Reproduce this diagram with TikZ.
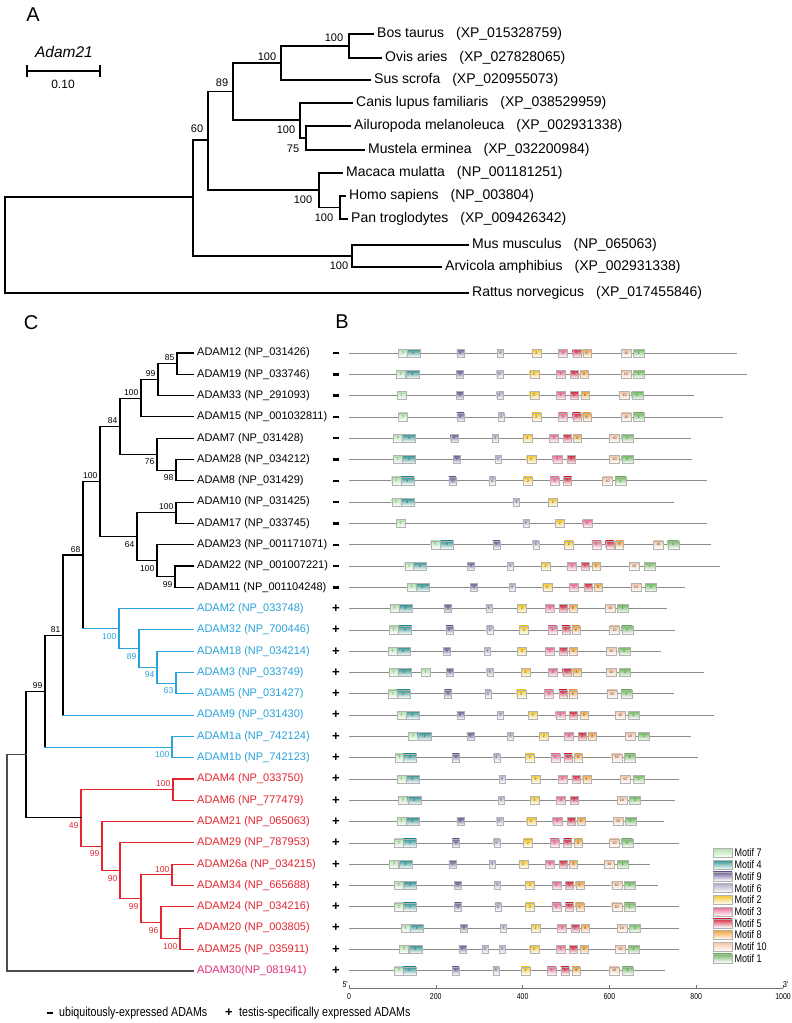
\documentclass[tikz,border=0pt]{standalone}
\usepackage{fontspec}
\setmainfont{Liberation Sans}
\newfontfamily\narrowfont[FakeStretch=0.82]{Liberation Sans}
\usetikzlibrary{positioning}

\definecolor{cblue}{HTML}{29A3DA}
\definecolor{cred}{HTML}{E42530}
\definecolor{cpink}{HTML}{E22D7B}
\definecolor{m1}{HTML}{6DB85C}
\definecolor{m2}{HTML}{F3C62E}
\definecolor{m3}{HTML}{E86A8D}
\definecolor{m4}{HTML}{2F9290}
\definecolor{m5}{HTML}{D7263F}
\definecolor{m6}{HTML}{B2AECB}
\definecolor{m7}{HTML}{B4E0AE}
\definecolor{m8}{HTML}{F0A23A}
\definecolor{m9}{HTML}{6E5E98}
\definecolor{m10}{HTML}{F5C5A5}

\newcommand{\spfont}{\fontsize{14}{16}\selectfont}
\newcommand{\adfont}{\fontsize{11}{13}\selectfont}
\newcommand{\bafont}{\fontsize{11}{13}\selectfont}
\newcommand{\bsfont}{\fontsize{8.5}{10}\selectfont}
\newcommand{\boxfont}{\fontsize{3.5}{4}\selectfont}
\newcommand{\minussign}{\rule{6.5pt}{2.4pt}}
% motif box widths (motif 1..10)
\newcommand{\motw}[1]{\ifcase\numexpr#1\relax 0\or 11\or 9\or 9\or 13\or 8\or 6\or 9\or 8\or 7\or 10\fi pt}

\tikzset{
  treeA/.style={line width=1.3pt},
  treeC/.style={line width=1.1pt},
  species/.style={anchor=west, font=\spfont, inner sep=0pt, xshift=4pt},
  leaf/.style={anchor=west, font=\adfont, inner sep=0pt, xshift=4pt},
  bsA/.style={font=\bafont, inner sep=0pt},
  bsup/.style={anchor=south east, font=\bsfont, inner sep=2.5pt},
  bsdn/.style={anchor=north east, font=\bsfont, inner sep=2.5pt, yshift=-2pt},
  sign/.style={font=\fontsize{13}{15}\selectfont\bfseries, inner sep=0pt},
  rowline/.style={draw=black!45, line width=0.8pt},
  mot/.style={draw=black!30, line width=0.3pt, inner sep=0pt, anchor=west,
    minimum height=8pt, minimum width=\motw{#1}, top color=m#1, bottom color=white,
    font=\boxfont, text=black!75},
  legtext/.style={anchor=west, font=\narrowfont\fontsize{11}{13}\selectfont, inner sep=0pt},
  ticklab/.style={font=\narrowfont\fontsize{8.5}{10}\selectfont, inner sep=0pt},
  panel/.style={font=\fontsize{20}{24}\selectfont, inner sep=0pt}
}

\begin{document}
\begin{tikzpicture}[x=1pt, y=-1pt, line cap=rect]
    \fill[white] (0,0) rectangle (792,1023);
    \useasboundingbox (0,0) rectangle (792,1023);

    % Panel letters
    \node[panel] (pA) at (33,15) {A};
    \node[panel] (pB) at (342,322) {B};
    \node[panel] (pC) at (31,323) {C};

    % Scale bar
    \coordinate (sb0) at (27,71);
    \coordinate (sb1) at (100,71);
    \node[font=\fontsize{15.5}{18}\selectfont\itshape, inner sep=0pt] (sbt) at (64,52) {Adam21};
    \draw[line width=1.2pt] (sb0) -- (sb1);
    \draw[line width=1.2pt] (27,66) -- (27,76) (100,66) -- (100,76);
    \node[font=\fontsize{12}{14}\selectfont, inner sep=0pt] (sbv) at (63,84) {0.10};

    % Panel A tree
    \coordinate (rA) at (5,245);
    \coordinate (p1) at (193,197);
    \coordinate (p2) at (208,140);
    \coordinate (p3) at (233,91.5);
    \coordinate (p4) at (281,63);
    \coordinate (p5) at (349,46);
    \coordinate (p6) at (300,120);
    \coordinate (p6b) at (306,138);
    \coordinate (p7) at (319,190);
    \coordinate (p8) at (340,207.5);
    \coordinate (p9) at (352,256);
    \coordinate (tBos) at (373,34);
    \coordinate (tOvi) at (381,58);
    \coordinate (tSus) at (370,80);
    \coordinate (tCan) at (352,103);
    \coordinate (tAil) at (350,126);
    \coordinate (tMus) at (364,150);
    \coordinate (tMac) at (342,173);
    \coordinate (tHom) at (345,196);
    \coordinate (tPan) at (347,219);
    \coordinate (tMmu) at (468,245);
    \coordinate (tArv) at (441,267);
    \coordinate (tRat) at (468,293);
    \foreach \p/\c in {rA/p1, rA/tRat, p1/p2, p1/p9, p2/p3, p2/p7, p3/p4, p3/p6,
        p4/p5, p4/tSus, p5/tBos, p5/tOvi, p6/tCan, p6/p6b, p6b/tAil, p6b/tMus,
        p7/tMac, p7/p8, p8/tHom, p8/tPan, p9/tMmu, p9/tArv}
        \draw[treeA] (\p) |- (\c);

    \node[species] (xBos) at (tBos) {Bos taurus\hspace{12pt}(XP\_015328759)};
    \node[species] (xOvi) at (tOvi) {Ovis aries\hspace{12pt}(XP\_027828065)};
    \node[species] (xSus) at (tSus) {Sus scrofa\hspace{12pt}(XP\_020955073)};
    \node[species] (xCan) at (tCan) {Canis lupus familiaris\hspace{12pt}(XP\_038529959)};
    \node[species] (xAil) at (tAil) {Ailuropoda melanoleuca\hspace{12pt}(XP\_002931338)};
    \node[species] (xMus) at (tMus) {Mustela erminea\hspace{12pt}(XP\_032200984)};
    \node[species] (xMac) at (tMac) {Macaca mulatta\hspace{12pt}(NP\_001181251)};
    \node[species] (xHom) at (tHom) {Homo sapiens\hspace{12pt}(NP\_003804)};
    \node[species] (xPan) at (tPan) {Pan troglodytes\hspace{12pt}(XP\_009426342)};
    \node[species] (xMmu) at (tMmu) {Mus musculus\hspace{12pt}(NP\_065063)};
    \node[species] (xArv) at (tArv) {Arvicola amphibius\hspace{12pt}(XP\_002931338)};
    \node[species] (xRat) at (tRat) {Rattus norvegicus\hspace{12pt}(XP\_017455846)};

    \node[bsA] (bA1) at (334,38) {100};
    \node[bsA] (bA2) at (267,57) {100};
    \node[bsA] (bA3) at (222,83) {89};
    \node[bsA] (bA4) at (197,129) {60};
    \node[bsA] (bA5) at (286,130) {100};
    \node[bsA] (bA6) at (293,149) {75};
    \node[bsA] (bA7) at (303,200) {100};
    \node[bsA] (bA8) at (324,218) {100};
    \node[bsA] (bA9) at (339,266) {100};

    % Panel C tree
    \foreach \i in {0,...,29}
        \coordinate (l\i) at (193,{353+21.3*\i});
    \coordinate (n85) at (177,363.65);
    \coordinate (n99a) at (158,379.6);
    \coordinate (n100a) at (141,398.3);
    \coordinate (n98) at (176,470.15);
    \coordinate (n76) at (157,454.2);
    \coordinate (n84) at (120,426.2);
    \coordinate (n100b) at (176,512.75);
    \coordinate (n99b) at (175,576.65);
    \coordinate (n100c) at (157,560.7);
    \coordinate (n64) at (137,536.7);
    \coordinate (n100d) at (100,481.45);
    \coordinate (n63) at (176,683.15);
    \coordinate (n94) at (157,667.2);
    \coordinate (n89) at (139,648.55);
    \coordinate (n100e) at (119,628.6);
    \coordinate (n68) at (83,555.0);
    \coordinate (n81) at (63,635.05);
    \coordinate (n100f) at (172,747.05);
    \coordinate (n99c) at (45,691.05);
    \coordinate (n100g) at (173,789.65);
    \coordinate (n100h) at (180,938.75);
    \coordinate (n96) at (161,922.8);
    \coordinate (n100i) at (172,874.85);
    \coordinate (n99d) at (141,898.8);
    \coordinate (n90) at (120,870.85);
    \coordinate (n99e) at (102,846.2);
    \coordinate (n49) at (81,817.9);
    \coordinate (nX) at (26,754.5);
    \coordinate (nR) at (7,862.6);

    % vertical bars
    \foreach \n/\t/\b/\col in {n85/l0/l1/black, n99a/n85/l2/black, n100a/n99a/l3/black,
        n84/n100a/n76/black, n76/l4/n98/black, n98/l5/l6/black, n100d/n84/n64/black,
        n64/n100b/n100c/black, n100b/l7/l8/black, n100c/l9/n99b/black, n99b/l10/l11/black,
        n68/n100d/n100e/black, n81/n68/l17/black, n99c/n81/n100f/black, nX/n99c/n49/black,
        n100e/l12/n89/cblue, n89/l13/n94/cblue, n94/l14/n63/cblue, n63/l15/l16/cblue,
        n100f/l18/l19/cblue, n49/n100g/n99e/cred, n100g/l20/l21/cred, n99e/l22/n90/cred,
        n90/l23/n99d/cred, n99d/n100i/n96/cred, n100i/l24/l25/cred, n96/l26/n100h/cred,
        n100h/l27/l28/cred}
        \draw[treeC, \col] (\n |- \t) -- (\n |- \b);
    % branches
    \foreach \p/\c/\col in {n85/l0/black, n85/l1/black, n99a/n85/black, n99a/l2/black,
        n100a/n99a/black, n100a/l3/black, n84/n100a/black, n84/n76/black, n76/l4/black,
        n76/n98/black, n98/l5/black, n98/l6/black, n100d/n84/black, n100d/n64/black,
        n64/n100b/black, n64/n100c/black, n100b/l7/black, n100b/l8/black, n100c/l9/black,
        n100c/n99b/black, n99b/l10/black, n99b/l11/black, n68/n100d/black, n81/n68/black,
        n99c/n81/black, nX/n99c/black, nX/n49/black,
        n68/n100e/cblue, n100e/l12/cblue, n100e/n89/cblue, n89/l13/cblue, n89/n94/cblue,
        n94/l14/cblue, n94/n63/cblue, n63/l15/cblue, n63/l16/cblue, n81/l17/cblue,
        n99c/n100f/cblue, n100f/l18/cblue, n100f/l19/cblue,
        n49/n100g/cred, n100g/l20/cred, n100g/l21/cred, n49/n99e/cred, n99e/l22/cred,
        n99e/n90/cred, n90/l23/cred, n90/n99d/cred, n99d/n100i/cred, n100i/l24/cred,
        n100i/l25/cred, n99d/n96/cred, n96/l26/cred, n96/n100h/cred, n100h/l27/cred,
        n100h/l28/cred}
        \draw[treeC, \col] (\p |- \c) -- (\c);
    % root
    \draw[line width=1.6pt, black!70] (nR |- nX) -- (nR |- l29);
    \draw[line width=1.6pt, black!70] (nR |- nX) -- (nX);
    \draw[line width=1.6pt, black!70] (nR |- l29) -- (l29);

    % Bootstrap values
    \foreach \n/\v in {n85/85, n99a/99, n100a/100, n84/84, n100b/100, n100d/100,
        n68/68, n81/81, n99c/99}
        \node[bsup] (b\n) at (\n) {\v};
    \foreach \n/\v in {n76/76, n98/98, n64/64, n100c/100, n99b/99}
        \node[bsdn] (b\n) at (\n) {\v};
    \foreach \n/\v in {n100e/100, n89/89, n94/94, n63/63, n100f/100}
        \node[bsdn, text=cblue] (b\n) at (\n) {\v};
    \foreach \n/\v in {n100g/100, n100i/100}
        \node[bsup, text=cred] (b\n) at (\n) {\v};
    \foreach \n/\v in {n49/49, n99e/99, n90/90, n99d/99, n96/96, n100h/100}
        \node[bsdn, text=cred] (b\n) at (\n) {\v};

    % Leaf labels
    \foreach \i/\txt/\col in {0/ADAM12 (NP\_031426)/black, 1/ADAM19 (NP\_033746)/black,
        2/ADAM33 (NP\_291093)/black, 3/ADAM15 (NP\_001032811)/black,
        4/ADAM7 (NP\_031428)/black, 5/ADAM28 (NP\_034212)/black,
        6/ADAM8 (NP\_031429)/black, 7/ADAM10 (NP\_031425)/black,
        8/ADAM17 (NP\_033745)/black, 9/ADAM23 (NP\_001171071)/black,
        10/ADAM22 (NP\_001007221)/black, 11/ADAM11 (NP\_001104248)/black,
        12/ADAM2 (NP\_033748)/cblue, 13/ADAM32 (NP\_700446)/cblue,
        14/ADAM18 (NP\_034214)/cblue, 15/ADAM3 (NP\_033749)/cblue,
        16/ADAM5 (NP\_031427)/cblue, 17/ADAM9 (NP\_031430)/cblue,
        18/ADAM1a (NP\_742124)/cblue, 19/ADAM1b (NP\_742123)/cblue,
        20/ADAM4 (NP\_033750)/cred, 21/ADAM6 (NP\_777479)/cred,
        22/ADAM21 (NP\_065063)/cred, 23/ADAM29 (NP\_787953)/cred,
        24/ADAM26a (NP\_034215)/cred, 25/ADAM34 (NP\_665688)/cred,
        26/ADAM24 (NP\_034216)/cred, 27/ADAM20 (NP\_003805)/cred,
        28/ADAM25 (NP\_035911)/cred, 29/ADAM30(NP\_081941)/cpink}
        \node[leaf, text=\col] (c\i) at (l\i) {\txt};

    % Expression signs
    \foreach \i in {0,...,11}
        \node[sign] (s\i) at (336,{353+21.3*\i}) {\minussign};
    \foreach \i in {12,...,29}
        \node[sign] (s\i) at (336,{353+21.3*\i}) {+};

    % Panel B motif rows
    \foreach \i/\len/\mots in {
        0/893/{7/114,4/133,9/248,6/342,2/421,3/482,5/515,8/538,10/627,1/655},
        1/916/{7/108,4/131,9/247,6/340,2/416,3/477,5/509,8/532,10/626,1/655},
        2/793/{7/110,9/247,6/340,2/416,3/477,5/509,8/534,10/623,1/651},
        3/861/{7/114,9/248,6/344,2/421,3/482,5/515,8/538,10/627,1/655},
        4/786/{7/102,4/123,9/234,6/330,2/400,3/461,5/494,8/517,10/600,1/628},
        5/790/{7/102,4/123,9/240,6/336,2/409,3/469,5/503,10/600,1/628},
        6/823/{7/98,4/119,9/230,6/323,2/402,3/463,5/494,10/584,1/613},
        7/747/{7/98,4/119,6/379,2/459},
        8/824/{7/108,6/400,2/475,3/538},
        9/833/{7/188,4/210,9/331,6/423,2/496,3/559,5/591,8/614,10/701,1/734},
        10/853/{7/128,4/148,9/273,6/365,2/442,3/503,5/535,8/559,10/645,1/680},
        11/774/{7/133,4/154,9/279,6/369,2/446,3/508,5/541,8/565,10/649,1/683},
        12/732/{7/94,4/115,9/220,6/315,2/388,3/452,5/483,8/506,10/590,1/618},
        13/751/{7/92,4/114,9/223,6/317,2/392,3/458,5/490,8/513,10/600,1/628},
        14/717/{7/89,4/110,9/217,6/312,2/388,3/452,5/485,8/508,10/592,1/621},
        15/818/{7/92,4/112,7/165,9/224,6/317,2/396,3/459,5/492,8/515,10/592,1/623},
        16/747/{7/89,4/110,9/220,6/313,2/386,3/450,5/483,8/506,10/594,1/626},
        17/841/{7/110,4/131,9/248,6/342,2/413,3/476,5/508,8/532,10/613,1/642},
        18/787/{7/137,4/158,9/271,6/365,2/438,3/496,5/528,8/551,10/636,1/667},
        19/803/{7/106,4/125,9/238,6/333,2/406,3/465,5/495,8/519,10/605,1/634},
        20/759/{7/110,4/131,6/346,2/419,3/481,5/513,8/538,10/624,1/654},
        21/751/{7/114,4/135,6/343,2/417,3/478,5/509,10/617,1/646},
        22/726/{7/110,4/131,9/248,6/340,2/409,3/469,5/502,8/526,10/608,1/636},
        23/759/{7/104,4/125,9/238,6/333,2/402,3/463,5/494,8/519,10/600,1/628},
        24/692/{7/93,4/115,9/230,6/323,2/391,3/452,5/483,8/508,10/588,1/618},
        25/710/{7/104,4/125,9/242,6/335,2/406,3/467,5/498,8/522,10/605,1/634},
        26/759/{7/104,4/125,9/243,6/336,2/406,3/467,5/498,8/522,10/605,1/634},
        27/759/{7/119,4/141,9/256,6/349,2/419,3/480,5/511,8/535,10/617,1/646},
        28/759/{7/116,4/138,9/253,6/306,6/346,2/416,3/477,5/508,8/532,10/614,1/643},
        29/728/{7/104,4/124,9/237,6/331,2/396,3/456,5/488,8/514,10/599,1/629}} {
        \draw[rowline] (349,{353+21.3*\i}) -- ++({0.434*\len},0);
        \foreach \m/\p [count=\k] in \mots
            \node[mot=\m] (m\i-\k) at ({349+0.434*\p},{353+21.3*\i}) {\m};
    }

    % Length axis
    \coordinate (ax0) at (349,988);
    \coordinate (ax1) at (783,988);
    \draw[black!55, line width=0.6pt] (ax0) -- (ax1);
    \foreach \v in {0,200,...,1000} {
        \draw[black!55, line width=0.6pt] ({349+0.434*\v},988) -- ++(0,-3);
        \node[ticklab] (tk\v) at ({349+0.434*\v},997) {\v};
    }
    \node[ticklab, anchor=east] (end5) at (348,985) {5'};
    \node[ticklab, anchor=west] (end3) at (783,985) {3'};

    % Motif legend
    \foreach \m [count=\k from 0] in {7,4,9,6,2,3,5,8,10,1} {
        \node[mot=\m, minimum width=19pt, minimum height=9pt] (sw\m) at (713,{853+11.7*\k}) {};
        \node[legtext, right=2pt of sw\m] (lt\m) {Motif \m};
    }

    % Expression legend
    \node[sign] (lgm) at (50,1013) {\minussign};
    \node[anchor=west, inner sep=0pt, font=\narrowfont\fontsize{13}{15}\selectfont] (lgmt) at (59,1013) {ubiquitously-expressed ADAMs};
    \node[sign] (lgp) at (229,1013) {+};
    \node[anchor=west, inner sep=0pt, font=\narrowfont\fontsize{13}{15}\selectfont] (lgpt) at (239,1013) {testis-specifically expressed ADAMs};
\end{tikzpicture}
\end{document}
